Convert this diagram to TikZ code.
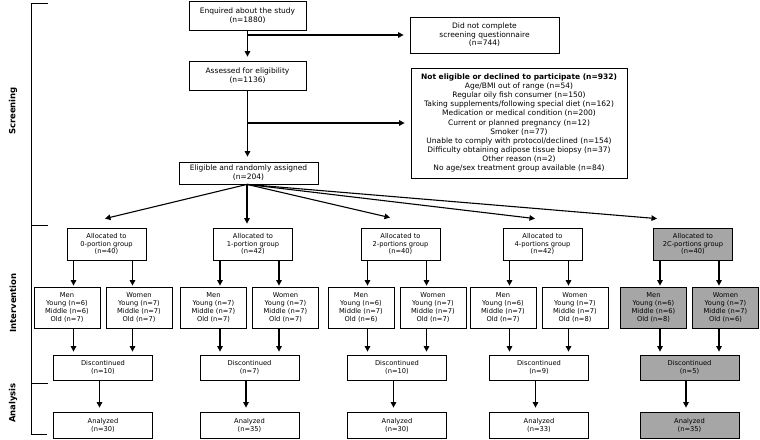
\documentclass[tikz,border=0pt]{standalone}
\usepackage{fontspec}
\setmainfont{DejaVu Sans}
\usetikzlibrary{arrows.meta}
\definecolor{boxgray}{RGB}{166,166,166}
\tikzset{
  box/.style={draw, line width=0.8pt, inner sep=0pt, align=center, anchor=center},
  bigbox/.style={box, font=\fontsize{7.5}{9}\selectfont},
  smallbox/.style={box, font=\fontsize{6.7}{7.8}\selectfont},
  allocbox/.style={smallbox, minimum width=79pt, minimum height=32pt},
  subbox/.style={smallbox, minimum width=66pt, minimum height=41pt},
  discbox/.style={smallbox, minimum width=99pt, minimum height=25pt},
  analbox/.style={smallbox, minimum width=99pt, minimum height=26pt},
  hl/.style={fill=boxgray},
  arr/.style={line width=1.1pt, -{Triangle[length=5.5pt,width=5.5pt]}},
  phase/.style={rotate=90, font=\fontsize{8.5}{10}\selectfont\bfseries},
  bracket/.style={line width=0.8pt},
}
\begin{document}
\begin{tikzpicture}[x=1pt,y=-1pt]
\useasboundingbox (0,0) rectangle (760,439);

% phase bracket
\draw[bracket] (48,3) -- (31,3) -- (31,434) -- (47,434);
\draw[bracket] (31,225) -- (48,225);
\draw[bracket] (31,383) -- (48,383);
\node[phase] (ls) at (13,111) {Screening};
\node[phase] (li) at (13,303) {Intervention};
\node[phase] (la) at (13,403) {Analysis};

% screening
\node[bigbox, minimum width=117pt, minimum height=29pt] (enq) at (247.5,15.5) {Enquired about the study\\(n=1880)};
\node[bigbox, minimum width=149pt, minimum height=36pt, font=\fontsize{7.5}{8.6}\selectfont] (dnc) at (484.5,35) {Did not complete\\screening questionnaire\\(n=744)};
\node[bigbox, minimum width=117pt, minimum height=29pt] (ass) at (247.5,75.5) {Assessed for eligibility\\(n=1136)};
\node[bigbox, minimum width=216pt, minimum height=110pt, font=\fontsize{7.5}{9.1}\selectfont] (ne) at (519,123) {\textbf{Not eligible or declined to participate (n=932)}\\Age/BMI out of range (n=54)\\Regular oily fish consumer (n=150)\\Taking supplements/following special diet (n=162)\\Medication or medical condition (n=200)\\Current or planned pregnancy (n=12)\\Smoker (n=77)\\Unable to comply with protocol/declined (n=154)\\Difficulty obtaining adipose tissue biopsy (n=37)\\Other reason (n=2)\\No age/sex treatment group available (n=84)};
\node[bigbox, minimum width=139pt, minimum height=22pt] (elig) at (248.5,173) {Eligible and randomly assigned\\(n=204)};

\draw[arr, shorten >=4pt] (enq) -- (ass);
\draw[arr, shorten >=6pt] (enq.south |- dnc.west) -- (dnc.west);
\draw[arr, shorten >=5pt] (ass.south) -- (ass.south |- elig.north);
\draw[arr, shorten >=6pt] (ass.south |- ne.west) -- (ne.west);

% allocation
\node[allocbox] (a0) at (106.5,244) {Allocated to\\0-portion group\\(n=40)};
\node[allocbox] (a1) at (253,244) {Allocated to\\1-portion group\\(n=42)};
\node[allocbox] (a2) at (400.5,244) {Allocated to\\2-portions group\\(n=40)};
\node[allocbox] (a3) at (542.5,244) {Allocated to\\4-portions group\\(n=42)};
\node[allocbox, hl] (a4) at (693,244) {Allocated to\\2C-portions group\\(n=40)};

\draw[arr] ([xshift=-1.5pt]elig.south) -- ([xshift=-1.5pt,yshift=9pt]a0.north);
\draw[arr] ([xshift=-1.5pt]elig.south) -- ([xshift=-6pt,yshift=4pt]a1.north);
\draw[arr] ([xshift=-1.5pt]elig.south) -- ([xshift=-10.5pt,yshift=10pt]a2.north);
\draw[arr] ([xshift=-1.5pt]elig.south) -- ([xshift=-7.5pt,yshift=9pt]a3.north);
\draw[arr] ([xshift=-1.5pt]elig.south) -- ([xshift=-36pt,yshift=9pt]a4.north);

% subgroups
\node[subbox] (m0) at (67,307.5) {Men\\Young (n=6)\\Middle (n=6)\\Old (n=7)};
\node[subbox] (w0) at (139,307.5) {Women\\Young (n=7)\\Middle (n=7)\\Old (n=7)};
\node[subbox] (m1) at (213.5,307.5) {Men\\Young (n=7)\\Middle (n=7)\\Old (n=7)};
\node[subbox] (w1) at (285.5,307.5) {Women\\Young (n=7)\\Middle (n=7)\\Old (n=7)};
\node[subbox] (m2) at (361,307.5) {Men\\Young (n=6)\\Middle (n=7)\\Old (n=6)};
\node[subbox] (w2) at (433,307.5) {Women\\Young (n=7)\\Middle (n=7)\\Old (n=7)};
\node[subbox] (m3) at (503,307.5) {Men\\Young (n=6)\\Middle (n=7)\\Old (n=7)};
\node[subbox] (w3) at (575,307.5) {Women\\Young (n=7)\\Middle (n=7)\\Old (n=8)};
\node[subbox, hl] (m4) at (653.5,307.5) {Men\\Young (n=6)\\Middle (n=6)\\Old (n=8)};
\node[subbox, hl] (w4) at (725.5,307.5) {Women\\Young (n=7)\\Middle (n=7)\\Old (n=6)};

% discontinued
\node[discbox] (d0) at (103,367.5) {Discontinued\\(n=10)};
\node[discbox] (d1) at (249.5,367.5) {Discontinued\\(n=7)};
\node[discbox] (d2) at (397,367.5) {Discontinued\\(n=10)};
\node[discbox] (d3) at (539,367.5) {Discontinued\\(n=9)};
\node[discbox, hl] (d4) at (689.5,367.5) {Discontinued\\(n=5)};

% analyzed
\node[analbox] (n0) at (103,425) {Analyzed\\(n=30)};
\node[analbox] (n1) at (249.5,425) {Analyzed\\(n=35)};
\node[analbox] (n2) at (397,425) {Analyzed\\(n=30)};
\node[analbox] (n3) at (539,425) {Analyzed\\(n=33)};
\node[analbox, hl] (n4) at (689.5,425) {Analyzed\\(n=35)};

\foreach \i in {0,...,4}{
  \draw[arr, shorten >=1pt] ([xshift=-33pt]a\i.south) -- ([xshift=6.5pt]m\i.north);
  \draw[arr, shorten >=1pt] ([xshift=26pt]a\i.south) -- ([xshift=-6.5pt]w\i.north);
  \draw[arr, shorten >=3pt] ([xshift=6.5pt]m\i.south) -- ([xshift=-29.5pt]d\i.north);
  \draw[arr, shorten >=3pt] ([xshift=-6.5pt]w\i.south) -- ([xshift=29.5pt]d\i.north);
  \draw[arr, shorten >=4pt] ([xshift=-3.5pt]d\i.south) -- ([xshift=-3.5pt]n\i.north);
}
\end{tikzpicture}
\end{document}
